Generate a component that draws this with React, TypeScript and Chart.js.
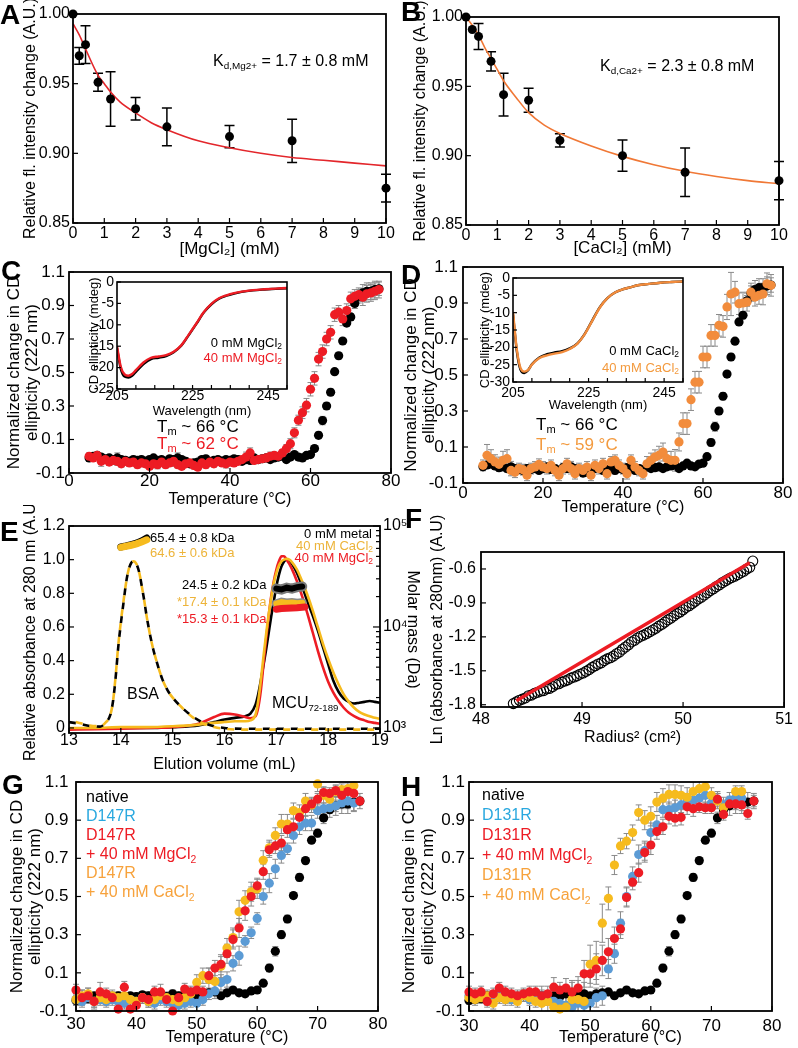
import React, { useEffect, useRef } from "react";
import { Chart, registerables } from "chart.js";

Chart.register(...registerables);

const FONT = "'Liberation Sans', Arial, 'DejaVu Sans', sans-serif";
const W = 798;
const H = 1048;
Chart.defaults.font.family = FONT;
Chart.defaults.color = "#000";

// ================= DATA =================
// Panel A – Mg2+ titration
const mgConc = [0, 0.2, 0.4, 0.8, 1.2, 2, 3, 5, 7, 10];
const mgSignal = [1.0, 0.970, 0.978, 0.951, 0.939, 0.932, 0.919, 0.912, 0.909, 0.875];
const mgError = [0, 0.006, 0.0135, 0.0065, 0.0195, 0.008, 0.0135, 0.008, 0.0155, 0.010];
const mgFitConc = [0, 0.2, 0.4, 0.6, 0.8, 1, 1.2, 1.5, 2, 2.5, 3, 4, 5, 6, 7, 8, 9, 10];
const mgFitSignal = [0.993, 0.985, 0.975, 0.965, 0.956, 0.950, 0.944, 0.937, 0.929, 0.922, 0.917, 0.909, 0.904, 0.900, 0.897, 0.895, 0.893, 0.891];

// Panel B – Ca2+ titration
const caConc = [0, 0.2, 0.4, 0.8, 1.2, 2, 3, 5, 7, 10];
const caSignal = [1.0, 0.991, 0.986, 0.968, 0.944, 0.940, 0.911, 0.900, 0.888, 0.882];
const caError = [0, 0, 0.0094, 0.007, 0.0154, 0.0087, 0.0048, 0.0113, 0.0175, 0.0138];
const caFitConc = [0, 0.2, 0.4, 0.6, 0.8, 1, 1.2, 1.6, 2, 2.5, 3, 4, 5, 6, 7, 8, 9, 10];
const caFitSignal = [1.0, 0.994, 0.987, 0.978, 0.970, 0.962, 0.954, 0.942, 0.931, 0.922, 0.916, 0.907, 0.8995, 0.8935, 0.8887, 0.885, 0.882, 0.8798];

const titrTicksX = [0, 1, 2, 3, 4, 5, 6, 7, 8, 9, 10];
const titrTicksY = [0.85, 0.9, 0.95, 1.0];

// Panels C / D – thermal melts
const tempsFull = [5, 6, 7, 8, 9, 10, 11, 12, 13, 14, 15, 16, 17, 18, 19, 20, 21, 22, 23, 24, 25, 26, 27, 28, 29, 30, 31, 32, 33, 34, 35, 36, 37, 38, 39, 40, 41, 42, 43, 44, 45, 46, 47, 48, 49, 50, 51, 52, 53, 54, 55, 56, 57, 58, 59, 60, 61, 62, 63, 64, 65, 66, 67, 68, 69, 70, 71, 72, 73, 74, 75, 76, 77];
const nativeSignal = [
  -0.01, 0.0, 0.005, -0.005, -0.015, -0.01, -0.02, -0.01, -0.02, -0.025,
  -0.03, -0.02, -0.025, -0.02, -0.03, -0.02, -0.01, -0.025, -0.02, -0.03,
  -0.015, -0.02, -0.01, -0.02, -0.03, -0.045, -0.04, -0.035, -0.02, -0.015,
  -0.03, -0.025, -0.02, -0.03, -0.02, -0.025, -0.015, -0.02, -0.03, -0.02,
  -0.025, -0.01, -0.02, -0.015, -0.01, -0.02, -0.01, -0.005, 0.0, -0.02,
  -0.005, 0.01, -0.005, -0.01, 0.005, 0.01, 0.046, 0.125, 0.213, 0.30,
  0.382, 0.505, 0.60, 0.688, 0.795, 0.832, 0.912, 0.955, 0.975, 0.985,
  0.985, 0.995, 1.0,
];
const nativeError = [
  0.02, 0.02, 0.015, 0.015, 0.02, 0.015, 0.02, 0.03, 0.015, 0.02,
  0.015, 0.02, 0.015, 0.02, 0.015, 0.02, 0.015, 0.02, 0.015, 0.02,
  0.015, 0.02, 0.03, 0.015, 0.02, 0.02, 0.015, 0.02, 0.015, 0.02,
  0.015, 0.02, 0.015, 0.02, 0.015, 0.02, 0.015, 0.02, 0.015, 0.02,
  0.015, 0.02, 0.015, 0.02, 0.015, 0.015, 0.015, 0.015, 0.015, 0.015,
  0.015, 0.015, 0.015, 0.015, 0.015, 0.015, 0.015, 0.02, 0.025, 0.02,
  0.02, 0.015, 0.02, 0.015, 0.015, 0.02, 0.03, 0.04, 0.05, 0.05,
  0.05, 0.05, 0.04,
];
const mg40Signal = [
  0.0, -0.01, 0.005, -0.03, -0.02, -0.035, -0.025, -0.03, -0.045, -0.03,
  -0.04, -0.035, -0.05, -0.04, -0.045, -0.06, -0.045, -0.05, -0.035, -0.05,
  -0.04, -0.03, -0.05, -0.06, -0.045, -0.04, -0.055, -0.065, -0.04, -0.05,
  -0.035, -0.045, -0.03, -0.04, -0.045, -0.035, -0.04, -0.03, -0.02, -0.005,
  0.02, -0.025, -0.02, -0.015, -0.01, 0.0, 0.005, 0.0, 0.02, 0.045,
  0.075, 0.14, 0.215, 0.26, 0.305, 0.40, 0.465, 0.58, 0.625, 0.70,
  0.74, 0.845, 0.86, 0.82, 0.87, 0.94, 0.955, 0.965, 0.95, 0.97,
  0.975, 0.985, 0.995,
];
const mg40Error = [
  0.02, 0.02, 0.02, 0.03, 0.02, 0.02, 0.02, 0.025, 0.02, 0.02,
  0.02, 0.02, 0.02, 0.02, 0.02, 0.02, 0.02, 0.025, 0.02, 0.02,
  0.02, 0.03, 0.02, 0.02, 0.02, 0.02, 0.02, 0.02, 0.02, 0.02,
  0.02, 0.02, 0.02, 0.02, 0.025, 0.02, 0.02, 0.02, 0.02, 0.03,
  0.03, 0.02, 0.02, 0.02, 0.02, 0.025, 0.02, 0.02, 0.02, 0.025,
  0.03, 0.03, 0.03, 0.035, 0.04, 0.04, 0.04, 0.04, 0.04, 0.04,
  0.04, 0.04, 0.04, 0.04, 0.04, 0.04, 0.04, 0.04, 0.05, 0.05,
  0.05, 0.05, 0.05,
];
const ca40Signal = [
  -0.002, 0.054, 0.035, 0.017, 0.004, 0.026, 0.035, -0.03, -0.04, -0.02,
  -0.026, -0.057, -0.02, -0.011, 0.004, -0.011, -0.02, -0.002, -0.03, -0.057,
  -0.02, 0.007, -0.02, -0.048, -0.02, -0.03, -0.011, -0.057, -0.002, -0.02,
  0.007, -0.048, 0.017, 0.026, -0.002, -0.02, -0.048, 0.026, -0.011, -0.03,
  -0.048, 0.007, 0.026, 0.044, 0.054, 0.072, 0.035, 0.026, 0.026, 0.128,
  0.23, 0.23, 0.363, 0.46, 0.46, 0.60, 0.60, 0.72, 0.72, 0.776,
  0.77, 0.878, 0.95, 0.96, 0.896, 0.9, 0.905, 0.96, 0.933, 0.943,
  0.95, 1.007, 0.998,
];
const ca40Error = [
  0.03, 0.06, 0.05, 0.04, 0.04, 0.05, 0.05, 0.03, 0.03, 0.03,
  0.03, 0.03, 0.03, 0.03, 0.03, 0.03, 0.03, 0.03, 0.03, 0.03,
  0.03, 0.03, 0.03, 0.03, 0.03, 0.03, 0.03, 0.03, 0.03, 0.03,
  0.03, 0.03, 0.03, 0.03, 0.03, 0.03, 0.03, 0.03, 0.03, 0.03,
  0.03, 0.04, 0.04, 0.04, 0.05, 0.05, 0.04, 0.05, 0.06, 0.05,
  0.06, 0.06, 0.06, 0.06, 0.06, 0.06, 0.06, 0.06, 0.06, 0.06,
  0.06, 0.07, 0.12, 0.06, 0.06, 0.06, 0.05, 0.05, 0.05, 0.05,
  0.06, 0.06, 0.06,
];
const meltTicksX = [0, 20, 40, 60, 80];
const meltTicksY = [-0.1, 0.1, 0.3, 0.5, 0.7, 0.9, 1.1];

// Insets – CD spectra
const wavelength = [205, 206, 207, 208, 209, 210, 212, 214, 216, 218, 220, 222, 224, 226, 228, 230, 232, 234, 236, 238, 241, 244, 247, 250];
const specMg0 = [-15.5, -20.3, -22.1, -22.3, -21.9, -21.0, -19.2, -18.0, -17.7, -17.3, -16.4, -14.9, -12.4, -9.8, -7.1, -5.2, -3.9, -3.2, -2.7, -2.3, -1.95, -1.75, -1.6, -1.45];
const specMg40 = [-15.0, -19.8, -21.6, -21.9, -21.5, -20.6, -18.8, -17.7, -17.4, -17.1, -16.3, -14.8, -12.3, -9.7, -7.0, -5.1, -3.8, -3.1, -2.6, -2.25, -1.9, -1.7, -1.55, -1.4];
const specCa0 = [-10.5, -21.0, -26.5, -27.4, -26.6, -24.9, -22.9, -22.0, -21.5, -21.1, -20.3, -18.9, -16.1, -12.2, -8.4, -5.8, -4.2, -3.3, -2.7, -2.1, -1.7, -1.35, -1.15, -1.0];
const specCa40 = [-9.8, -20.5, -26.0, -27.0, -26.5, -25.0, -23.1, -22.3, -21.8, -21.4, -20.5, -19.0, -16.2, -12.3, -8.5, -5.8, -4.2, -3.3, -2.7, -2.1, -1.7, -1.35, -1.15, -1.0];
const specTicksX = [205, 225, 245];
const specMinorX = [210, 215, 220, 230, 235, 240, 250];
const specTicksYMg = [-25, -20, -15, -10, -5, 0];
const specTicksYCa = [-30, -25, -20, -15, -10, -5, 0];

// Panel E – SEC-MALS
const bsaVol = [13.0, 13.2, 13.4, 13.6, 13.7, 13.8, 13.85, 13.9, 13.95, 14.0, 14.05, 14.1, 14.15, 14.2, 14.25, 14.3, 14.35, 14.4, 14.45, 14.5, 14.6, 14.7, 14.8, 14.9, 15.0, 15.2, 15.4, 15.6, 15.8, 16.0, 16.5, 17.0, 17.5, 18.0, 18.5, 19.0];
const bsaAbsNoMetal = [0.035, 0.025, 0.012, 0.008, 0.03, 0.08, 0.16, 0.30, 0.48, 0.62, 0.74, 0.86, 0.94, 0.98, 0.99, 0.975, 0.93, 0.85, 0.76, 0.66, 0.50, 0.385, 0.29, 0.225, 0.18, 0.115, 0.065, 0.03, 0.01, 0.0, -0.005, -0.005, -0.005, -0.005, -0.005, -0.005];
const bsaAbsCa = [0.045, 0.03, 0.015, 0.01, 0.03, 0.08, 0.16, 0.31, 0.49, 0.63, 0.75, 0.86, 0.94, 0.98, 0.99, 0.975, 0.93, 0.85, 0.76, 0.66, 0.50, 0.385, 0.29, 0.225, 0.18, 0.115, 0.06, 0.025, 0.005, -0.005, -0.01, -0.01, -0.01, -0.01, -0.01, -0.01];
const mcuVol = [13.0, 13.5, 14.0, 14.5, 15.0, 15.5, 15.8, 16.0, 16.2, 16.4, 16.5, 16.6, 16.65, 16.7, 16.75, 16.8, 16.85, 16.9, 16.95, 17.0, 17.05, 17.1, 17.15, 17.2, 17.25, 17.3, 17.4, 17.5, 17.6, 17.7, 17.8, 17.9, 18.0, 18.1, 18.2, 18.3, 18.4, 18.5, 18.6, 18.7, 18.8, 18.9, 19.0];
const mcuAbsNoMetal = [-0.005, -0.005, 0.0, 0.0, 0.005, 0.015, 0.035, 0.05, 0.06, 0.07, 0.085, 0.14, 0.2, 0.28, 0.37, 0.46, 0.56, 0.66, 0.75, 0.84, 0.91, 0.96, 0.99, 1.0, 0.995, 0.975, 0.92, 0.84, 0.75, 0.67, 0.58, 0.48, 0.38, 0.28, 0.215, 0.175, 0.155, 0.145, 0.15, 0.155, 0.16, 0.155, 0.15];
const mcuAbsCa = [0.0, 0.0, 0.005, 0.005, 0.01, 0.02, 0.03, 0.035, 0.04, 0.04, 0.045, 0.08, 0.16, 0.28, 0.42, 0.55, 0.67, 0.77, 0.86, 0.92, 0.965, 0.99, 1.0, 1.005, 1.0, 0.985, 0.94, 0.87, 0.79, 0.7, 0.6, 0.5, 0.41, 0.33, 0.26, 0.2, 0.155, 0.12, 0.095, 0.08, 0.07, 0.06, 0.055];
const mcuAbsMg = [-0.01, -0.008, -0.005, 0.0, 0.005, 0.025, 0.065, 0.085, 0.08, 0.065, 0.058, 0.07, 0.12, 0.22, 0.37, 0.52, 0.66, 0.78, 0.87, 0.94, 0.99, 1.02, 1.02, 1.0, 0.975, 0.945, 0.87, 0.78, 0.68, 0.57, 0.46, 0.36, 0.275, 0.21, 0.16, 0.12, 0.09, 0.07, 0.055, 0.045, 0.035, 0.03, 0.025];
const bsaMassVol = [14.0, 14.1, 14.2, 14.3, 14.4, 14.5];
const bsaMassNoMetal = [62000, 63500, 65500, 67500, 71000, 76000];
const bsaMassCa = [61500, 63000, 64500, 66500, 69500, 73000];
const mcuMassVol = [17.0, 17.1, 17.2, 17.3, 17.4, 17.5];
const mcuMassNoMetal = [24000, 23500, 24500, 24000, 24800, 25200];
const mcuMassCa = [17000, 17600, 17300, 17500, 17200, 17400];
const mcuMassVolMg = [17.0, 17.1, 17.2, 17.3, 17.4, 17.55];
const mcuMassMg = [15000, 15200, 15300, 15400, 15500, 15800];
const secTicksX = [13, 14, 15, 16, 17, 18, 19];
const secTicksY = [0, 0.2, 0.4, 0.6, 0.8, 1.0, 1.2];
const massTicks = [1000, 10000, 100000];
const massMinor = [2000, 3000, 4000, 5000, 6000, 7000, 8000, 9000, 20000, 30000, 40000, 50000, 60000, 70000, 80000, 90000];
const massLabels: Record<number, string> = { 1000: "10³", 10000: "10⁴", 100000: "10⁵" };

// Panel F – sedimentation equilibrium
const radiusSq = [
  48.32, 48.35, 48.38, 48.41, 48.44, 48.47, 48.50, 48.53, 48.56, 48.59,
  48.62, 48.65, 48.68, 48.71, 48.74, 48.77, 48.80, 48.83, 48.86, 48.89,
  48.92, 48.95, 48.98, 49.01, 49.04, 49.07, 49.10, 49.13, 49.16, 49.19,
  49.22, 49.25, 49.28, 49.31, 49.34, 49.37, 49.40, 49.43, 49.46, 49.49,
  49.52, 49.55, 49.58, 49.61, 49.64, 49.67, 49.70, 49.73, 49.76, 49.79,
  49.82, 49.85, 49.88, 49.91, 49.94, 49.97, 50.00, 50.03, 50.06, 50.09,
  50.12, 50.15, 50.18, 50.21, 50.24, 50.27, 50.30, 50.33, 50.36, 50.39,
  50.42, 50.45, 50.48, 50.51, 50.54, 50.57, 50.60, 50.63, 50.66, 50.69,
];
const lnAbs = [
  -1.79, -1.775, -1.76, -1.75, -1.74, -1.72, -1.715, -1.70, -1.69, -1.68,
  -1.675, -1.66, -1.655, -1.64, -1.62, -1.615, -1.60, -1.59, -1.58, -1.565,
  -1.555, -1.545, -1.53, -1.52, -1.505, -1.49, -1.47, -1.455, -1.44, -1.43,
  -1.41, -1.395, -1.385, -1.37, -1.35, -1.335, -1.31, -1.29, -1.27, -1.245,
  -1.23, -1.21, -1.195, -1.185, -1.17, -1.155, -1.14, -1.125, -1.105, -1.09,
  -1.07, -1.05, -1.035, -1.015, -0.995, -0.98, -0.96, -0.94, -0.925, -0.905,
  -0.885, -0.865, -0.85, -0.83, -0.81, -0.79, -0.775, -0.755, -0.74, -0.72,
  -0.705, -0.69, -0.675, -0.665, -0.65, -0.635, -0.62, -0.6, -0.585, -0.53,
];
const fitRadiusSq = [48.35, 50.66];
const fitLnAbs = [-1.765, -0.545];
const sedTicksX = [48, 49, 50, 51];
const sedTicksY = [-1.8, -1.5, -1.2, -0.9, -0.6];

// Panels G / H – mutant melts
const tempsMut = [30, 31, 32, 33, 34, 35, 36, 37, 38, 39, 40, 41, 42, 43, 44, 45, 46, 47, 48, 49, 50, 51, 52, 53, 54, 55, 56, 57, 58, 59, 60, 61, 62, 63, 64, 65, 66, 67, 68, 69, 70, 71, 72, 73, 74, 75, 76, 77];
const d147rSignal = [
  -0.04, -0.05, -0.03, -0.05, -0.04, -0.05, -0.04, -0.05, -0.06, -0.04,
  -0.05, -0.03, -0.05, -0.06, -0.04, -0.05, -0.06, -0.07, -0.06, -0.05,
  -0.06, -0.04, -0.01, 0.005, 0.05, 0.065, 0.15, 0.19, 0.265, 0.31,
  0.385, 0.5, 0.57, 0.645, 0.715, 0.75, 0.82, 0.865, 0.885, 0.885,
  0.95, 0.96, 0.965, 0.975, 0.99, 1.0, 0.99, null,
];
const d147rError = [
  0.03, 0.03, 0.03, 0.03, 0.03, 0.03, 0.03, 0.03, 0.03, 0.03,
  0.03, 0.03, 0.03, 0.03, 0.03, 0.03, 0.03, 0.03, 0.03, 0.03,
  0.04, 0.03, 0.03, 0.04, 0.04, 0.04, 0.04, 0.05, 0.03, 0.03,
  0.03, 0.04, 0.05, 0.05, 0.04, 0.03, 0.04, 0.04, 0.04, 0.04,
  0.04, 0.03, 0.03, 0.03, 0.03, 0.04, 0.04, 0,
];
const d147rMgSignal = [
  0.01, -0.03, -0.02, -0.05, 0.0, -0.01, -0.03, -0.09, 0.025, -0.09,
  -0.07, -0.03, -0.04, 0.0, 0.0, -0.04, -0.1, -0.03, 0.015, 0.0,
  0.01, 0.0, 0.085, 0.125, 0.145, 0.2, 0.275, 0.335, 0.425, 0.5,
  0.556, 0.63, 0.745, 0.765, 0.78, 0.85, 0.865, 0.915, 0.96, 0.985,
  1.01, 1.045, 1.04, 1.055, 1.03, 1.05, 1.04, 1.0,
];
const d147rMgError = [
  0.03, 0.04, 0.04, 0.04, 0.05, 0.03, 0.03, 0.04, 0.03, 0.04,
  0.04, 0.03, 0.03, 0.03, 0.04, 0.03, 0.04, 0.03, 0.03, 0.03,
  0.03, 0.03, 0.04, 0.04, 0.04, 0.05, 0.05, 0.05, 0.05, 0.05,
  0.04, 0.04, 0.04, 0.04, 0.04, 0.04, 0.04, 0.04, 0.04, 0.03,
  0.03, 0.03, 0.03, 0.03, 0.03, 0.03, 0.03, 0.02,
];
const d147rCaSignal = [
  -0.04, -0.02, -0.01, -0.05, -0.03, -0.04, -0.02, -0.03, -0.02, -0.04,
  -0.05, -0.03, -0.05, -0.04, -0.02, -0.03, -0.04, -0.05, -0.03, -0.01,
  0.05, 0.085, 0.065, 0.055, 0.135, 0.23, 0.285, 0.42, 0.48, 0.525,
  0.54, 0.69, 0.755, 0.82, 0.88, 0.88, 0.95, 0.94, 1.0, 0.98,
  1.09, 1.03, 1.01, 1.05, 1.06, 1.065, 1.08, null,
];
const d147rCaError = [
  0.03, 0.03, 0.03, 0.03, 0.03, 0.03, 0.03, 0.03, 0.03, 0.03,
  0.03, 0.03, 0.03, 0.03, 0.03, 0.03, 0.03, 0.03, 0.03, 0.03,
  0.04, 0.04, 0.06, 0.06, 0.06, 0.05, 0.05, 0.06, 0.05, 0.05,
  0.05, 0.05, 0.04, 0.04, 0.05, 0.05, 0.04, 0.04, 0.04, 0.04,
  0.04, 0.04, 0.03, 0.03, 0.03, 0.03, 0.03, 0,
];
const d131rSignal = [
  -0.02, -0.03, -0.02, -0.04, -0.03, -0.02, -0.03, -0.04, -0.03, -0.02,
  -0.04, -0.03, -0.02, -0.04, -0.05, -0.06, -0.07, -0.08, -0.06, -0.07,
  -0.06, -0.03, -0.02, 0.12, 0.2, 0.36, 0.5, 0.605, 0.72, 0.74,
  0.835, 0.875, 0.955, 0.955, 0.965, 0.98, 1.0, 1.005, 1.015, 1.03,
  0.99, 1.01, 0.98, 1.005, 1.015, 1.015, null, null,
];
const d131rError = [
  0.03, 0.03, 0.03, 0.03, 0.03, 0.03, 0.03, 0.03, 0.03, 0.03,
  0.03, 0.03, 0.03, 0.03, 0.04, 0.04, 0.05, 0.05, 0.05, 0.05,
  0.05, 0.05, 0.05, 0.05, 0.05, 0.06, 0.05, 0.05, 0.05, 0.05,
  0.05, 0.05, 0.04, 0.04, 0.04, 0.04, 0.04, 0.04, 0.04, 0.04,
  0.04, 0.04, 0.04, 0.04, 0.04, 0.04, 0, 0,
];
const d131rMgSignal = [
  0.0, -0.01, 0.0, -0.05, -0.01, 0.02, 0.0, -0.01, -0.02, -0.01,
  0.0, 0.0, -0.02, -0.01, 0.025, 0.01, 0.02, 0.0, 0.02, 0.095,
  0.095, 0.12, 0.165, 0.21, 0.28, 0.33, 0.495, 0.575, 0.625, 0.73,
  0.77, 0.84, 0.865, 0.92, 0.91, 0.915, 0.97, 0.96, 0.97, 0.965,
  0.965, 1.01, 0.93, 0.985, 0.985, 0.98, 0.935, 1.0,
];
const d131rMgError = [
  0.03, 0.03, 0.03, 0.03, 0.03, 0.03, 0.03, 0.03, 0.03, 0.03,
  0.03, 0.03, 0.05, 0.04, 0.05, 0.04, 0.05, 0.05, 0.06, 0.07,
  0.07, 0.08, 0.08, 0.07, 0.06, 0.05, 0.05, 0.04, 0.05, 0.05,
  0.05, 0.04, 0.04, 0.04, 0.04, 0.04, 0.04, 0.04, 0.03, 0.03,
  0.03, 0.03, 0.03, 0.03, 0.03, 0.03, 0.03, 0.03,
];
const d131rCaSignal = [
  -0.03, -0.04, -0.03, -0.02, -0.06, -0.03, -0.04, -0.03, -0.05, -0.02,
  -0.03, -0.05, -0.06, -0.05, -0.08, -0.09, -0.08, -0.04, -0.04, -0.05,
  0.145, 0.165, 0.36, 0.49, 0.665, 0.765, 0.79, 0.835, 0.94, 0.9,
  0.92, 0.995, 1.015, 1.035, 1.035, 1.03, 1.02, 1.05, 1.065, 1.075,
  1.03, 1.0, 0.965, null, 1.05, 1.05, null, null,
];
const d131rCaError = [
  0.03, 0.03, 0.03, 0.03, 0.03, 0.03, 0.03, 0.03, 0.03, 0.03,
  0.03, 0.03, 0.05, 0.05, 0.06, 0.08, 0.1, 0.1, 0.1, 0.1,
  0.1, 0.1, 0.1, 0.06, 0.05, 0.04, 0.04, 0.04, 0.04, 0.05,
  0.05, 0.05, 0.05, 0.05, 0.05, 0.05, 0.05, 0.05, 0.05, 0.05,
  0.04, 0.04, 0.04, 0, 0.03, 0.03, 0, 0,
];
const mutTicksX = [30, 40, 50, 60, 70, 80];

// ================= COLOURS =================
const RED = "#ED1C24";
const ORANGE = "#F28C3C";
const GOLD = "#F6BB1E";
const BLUE = "#5B9BD5";
const GREY = "#8A8A8A";

// ================= HELPERS =================
type Box = { left: number; top: number; width: number; height: number };

function series(xs: number[], ys: (number | null)[], errs?: number[]) {
  const data: { x: number; y: number }[] = [];
  const e: number[] = [];
  xs.forEach((x, i) => {
    const y = ys[i];
    if (y === null || y === undefined) return;
    data.push({ x, y });
    e.push(errs ? errs[i] : 0);
  });
  return { data, e };
}

function pointSet(xs: number[], ys: (number | null)[], errs: number[] | undefined, color: string, o: any = {}) {
  const s = series(xs, ys, errs);
  return {
    data: s.data,
    errors: errs ? s.e : undefined,
    errorColor: o.errorColor || GREY,
    errorWidth: o.errorWidth || 1,
    errorCap: o.errorCap || 3,
    showLine: false,
    pointRadius: o.r || 4.6,
    pointBackgroundColor: o.fill || color,
    pointBorderColor: color,
    pointBorderWidth: o.bw || 0,
    clip: false,
  };
}

function lineSet(xs: number[], ys: number[], color: string, width: number, o: any = {}) {
  return {
    data: series(xs, ys).data,
    showLine: true,
    borderColor: color,
    borderWidth: width,
    pointRadius: 0,
    fill: false,
    cubicInterpolationMode: o.smooth === false ? "default" : "monotone",
    borderDash: o.dash || [],
    borderDashOffset: o.dashOffset || 0,
    borderCapStyle: o.cap || "butt",
    yAxisID: o.yAxisID || "y",
  };
}

function ax(o: any) {
  const horizontal = o.pos === "bottom";
  return {
    type: o.type || "linear",
    position: o.pos,
    min: o.min,
    max: o.max,
    bounds: "data",
    grid: { display: false, drawTicks: false, tickLength: 0 },
    border: { display: false },
    afterBuildTicks: (s: any) => {
      s.ticks = o.ticks.map((v: number) => ({ value: v }));
    },
    afterFit: (s: any) => {
      if (horizontal) s.height = o.size;
      else s.width = o.size;
    },
    ticks: {
      autoSkip: false,
      maxRotation: 0,
      minRotation: 0,
      padding: o.pad,
      color: "#000",
      font: { family: FONT, size: o.fs, lineHeight: 1 },
      callback: (v: number) => o.fmt(v),
    },
    title: o.title
      ? {
          display: true,
          text: o.title,
          color: "#000",
          font: { family: FONT, size: o.ts, lineHeight: o.tlh || 1.2 },
          padding: o.tpad,
        }
      : { display: false },
  };
}

const f0 = (v: number) => String(v);
const f1 = (v: number) => v.toFixed(1);
const f2 = (v: number) => v.toFixed(2);

type Mark = { axis: string; side: "bottom" | "left" | "right"; values: number[]; len: number };

function framePlugin(marks: Mark[], lineWidth = 1.8) {
  return {
    id: "frame",
    afterDatasetsDraw(chart: any) {
      const { ctx, chartArea: a } = chart;
      ctx.save();
      ctx.strokeStyle = "#000";
      ctx.lineWidth = 1.2;
      for (const m of marks) {
        const s = chart.scales[m.axis];
        for (const v of m.values) {
          const p = s.getPixelForValue(v);
          ctx.beginPath();
          if (m.side === "bottom") {
            ctx.moveTo(p, a.bottom);
            ctx.lineTo(p, a.bottom - m.len);
          } else if (m.side === "left") {
            ctx.moveTo(a.left, p);
            ctx.lineTo(a.left + m.len, p);
          } else {
            ctx.moveTo(a.right, p);
            ctx.lineTo(a.right - m.len, p);
          }
          ctx.stroke();
        }
      }
      ctx.lineWidth = lineWidth;
      ctx.strokeRect(a.left, a.top, a.right - a.left, a.bottom - a.top);
      ctx.restore();
    },
  };
}

const errorBarPlugin = {
  id: "errorBars",
  beforeDatasetsDraw(chart: any) {
    const { ctx, chartArea: a } = chart;
    ctx.save();
    ctx.beginPath();
    ctx.rect(a.left - 20, a.top, a.right - a.left + 40, a.bottom - a.top);
    ctx.clip();
    chart.data.datasets.forEach((ds: any, i: number) => {
      if (!ds.errors) return;
      const meta = chart.getDatasetMeta(i);
      const ys = chart.scales[meta.yAxisID];
      ctx.strokeStyle = ds.errorColor;
      ctx.lineWidth = ds.errorWidth;
      const cap = ds.errorCap;
      meta.data.forEach((el: any, j: number) => {
        const d = ds.data[j];
        const e = ds.errors[j];
        if (!e || !d) return;
        const x = el.x;
        const y1 = ys.getPixelForValue(d.y + e);
        const y2 = ys.getPixelForValue(d.y - e);
        ctx.beginPath();
        ctx.moveTo(x, y1);
        ctx.lineTo(x, y2);
        ctx.moveTo(x - cap, y1);
        ctx.lineTo(x + cap, y1);
        ctx.moveTo(x - cap, y2);
        ctx.lineTo(x + cap, y2);
        ctx.stroke();
      });
    });
    ctx.restore();
  },
};

function baseConfig(datasets: any[], padding: any, scales: any, marks: Mark[], frameWidth = 1.8) {
  return {
    type: "scatter",
    data: { datasets },
    options: {
      animation: false,
      responsive: false,
      maintainAspectRatio: false,
      devicePixelRatio: 1,
      events: [],
      layout: { padding },
      plugins: { legend: { display: false }, tooltip: { enabled: false } },
      scales,
    },
    plugins: [errorBarPlugin, framePlugin(marks, frameWidth)],
  };
}

// ================= PANELS =================
type Spec = { box: Box; make: () => any };

const panelA: Spec = {
  box: { left: 0, top: 0, width: 400, height: 262 },
  make: () =>
    baseConfig(
      [
        pointSet(mgConc, mgSignal, mgError, "#000", { errorColor: "#000", errorWidth: 1.5, errorCap: 5, r: 4.5 }),
        lineSet(mgFitConc, mgFitSignal, "#E3262B", 1.6),
      ],
      { top: 14, right: 14, left: 0, bottom: 0 },
      {
        x: ax({ pos: "bottom", min: 0, max: 10, ticks: titrTicksX, fmt: f0, size: 39, fs: 16, pad: 3, title: "[MgCl₂] (mM)", ts: 17, tpad: { top: 0, bottom: 2.8 } }),
        y: ax({ pos: "left", min: 0.85, max: 1.0, ticks: titrTicksY, fmt: f2, size: 73, fs: 16, pad: 3, title: "Relative fl. intensity change (A.U.)", ts: 16, tpad: { top: 21.4, bottom: 0 } }),
      },
      [
        { axis: "x", side: "bottom", values: titrTicksX, len: 5 },
        { axis: "y", side: "left", values: titrTicksY, len: 5 },
      ]
    ),
};

const panelB: Spec = {
  box: { left: 400, top: 0, width: 398, height: 262 },
  make: () =>
    baseConfig(
      [
        pointSet(caConc, caSignal, caError, "#000", { errorColor: "#000", errorWidth: 1.5, errorCap: 5, r: 4.5 }),
        lineSet(caFitConc, caFitSignal, "#F07836", 1.6),
      ],
      { top: 17, right: 19, left: 0, bottom: 0 },
      {
        x: ax({ pos: "bottom", min: 0, max: 10, ticks: titrTicksX, fmt: f0, size: 37, fs: 16, pad: 3, title: "[CaCl₂] (mM)", ts: 17, tpad: { top: 0, bottom: 3.8 } }),
        y: ax({ pos: "left", min: 0.85, max: 1.0, ticks: titrTicksY, fmt: f2, size: 66, fs: 16, pad: 3, title: "Relative fl. intensity change (A.U.)", ts: 16, tpad: { top: 11.4, bottom: 0 } }),
      },
      [
        { axis: "x", side: "bottom", values: titrTicksX, len: 5 },
        { axis: "y", side: "left", values: titrTicksY, len: 5 },
      ]
    ),
};

const meltTitle = ["Normalized change in CD", "ellipticity (222 nm)"];

const panelC: Spec = {
  box: { left: 0, top: 252, width: 410, height: 268 },
  make: () =>
    baseConfig(
      [
        pointSet(tempsFull, mg40Signal, mg40Error, RED),
        pointSet(tempsFull, nativeSignal, nativeError, "#000"),
      ],
      { top: 20, right: 19, left: 0, bottom: 0 },
      {
        x: ax({ pos: "bottom", min: 0, max: 80, ticks: meltTicksX, fmt: f0, size: 47, fs: 17, pad: 0, title: "Temperature (°C)", ts: 16, tpad: { top: 0, bottom: 10.4 } }),
        y: ax({ pos: "left", min: -0.1, max: 1.1, ticks: meltTicksY, fmt: f1, size: 69, fs: 17, pad: 4, title: meltTitle, ts: 17, tlh: 1.1, tpad: { top: 4.6, bottom: 0 } }),
      },
      [
        { axis: "x", side: "bottom", values: meltTicksX, len: 5 },
        { axis: "y", side: "left", values: meltTicksY, len: 5 },
      ]
    ),
};

const insetC: Spec = {
  box: { left: 80, top: 268, width: 220, height: 157 },
  make: () =>
    baseConfig(
      [
        lineSet(wavelength, specMg40, RED, 2.4),
        lineSet(wavelength, specMg0, "#000", 2.4),
      ],
      { top: 14, right: 13, left: 0, bottom: 0 },
      {
        x: ax({ pos: "bottom", min: 205, max: 250, ticks: specTicksX, fmt: f0, size: 36, fs: 14, pad: 0, title: "Wavelength (nm)", ts: 13, tpad: { top: 0, bottom: 6.2 } }),
        y: ax({ pos: "left", min: -25, max: 0, ticks: specTicksYMg, fmt: f0, size: 37, fs: 14, pad: 3, title: "CD ellipticity (mdeg)", ts: 13, tpad: { top: 6.2, bottom: 0 } }),
      },
      [
        { axis: "x", side: "bottom", values: specTicksX, len: 4 },
        { axis: "x", side: "bottom", values: specMinorX, len: 4 },
        { axis: "y", side: "left", values: specTicksYMg, len: 4 },
      ],
      1.6
    ),
};

const panelD: Spec = {
  box: { left: 400, top: 250, width: 398, height: 270 },
  make: () =>
    baseConfig(
      [
        pointSet(tempsFull, ca40Signal, ca40Error, ORANGE),
        pointSet(tempsFull, nativeSignal, nativeError, "#000"),
      ],
      { top: 17, right: 15, left: 0, bottom: 0 },
      {
        x: ax({ pos: "bottom", min: 0, max: 80, ticks: meltTicksX, fmt: f0, size: 37, fs: 17, pad: 1.5, title: "Temperature (°C)", ts: 16, tpad: { top: 0, bottom: 2.4 } }),
        y: ax({ pos: "left", min: -0.1, max: 1.1, ticks: meltTicksY, fmt: f1, size: 63, fs: 17, pad: 5, title: meltTitle, ts: 17, tlh: 1.1, tpad: { top: 1.6, bottom: 0 } }),
      },
      [
        { axis: "x", side: "bottom", values: meltTicksX, len: 5 },
        { axis: "y", side: "left", values: meltTicksY, len: 5 },
      ]
    ),
};

const insetD: Spec = {
  box: { left: 470, top: 265, width: 230, height: 155 },
  make: () =>
    baseConfig(
      [
        lineSet(wavelength, specCa40, ORANGE, 2.4),
        lineSet(wavelength, specCa0, "#000", 2.4),
      ],
      { top: 13, right: 17, left: 0, bottom: 0 },
      {
        x: ax({ pos: "bottom", min: 205, max: 250, ticks: specTicksX, fmt: f0, size: 38, fs: 14, pad: 4, title: "Wavelength (nm)", ts: 13, tpad: { top: 0, bottom: 7.2 } }),
        y: ax({ pos: "left", min: -30, max: 0, ticks: specTicksYCa, fmt: f0, size: 43, fs: 14, pad: 3, title: "CD ellipticity (mdeg)", ts: 13, tpad: { top: 7.2, bottom: 0 } }),
      },
      [
        { axis: "x", side: "bottom", values: specTicksX, len: 4 },
        { axis: "x", side: "bottom", values: specMinorX, len: 4 },
        { axis: "y", side: "left", values: specTicksYCa, len: 4 },
      ],
      1.6
    ),
};

const panelE: Spec = {
  box: { left: 0, top: 505, width: 425, height: 270 },
  make: () =>
    baseConfig(
      [
        lineSet(bsaMassVol, bsaMassCa, GOLD, 7, { yAxisID: "y2", cap: "round", smooth: false }),
        lineSet(bsaMassVol, bsaMassNoMetal, "#000", 7, { yAxisID: "y2", cap: "round", smooth: false }),
        lineSet(mcuMassVolMg, mcuMassMg, RED, 7, { yAxisID: "y2", cap: "round", smooth: false }),
        lineSet(mcuMassVol, mcuMassCa, GOLD, 6, { yAxisID: "y2", cap: "round", smooth: false }),
        lineSet(mcuMassVol, mcuMassNoMetal, "#000", 6, { yAxisID: "y2", cap: "round", smooth: false }),
        lineSet(mcuMassVol, mcuMassCa, "#8c8c8c", 9, { yAxisID: "y2", cap: "round", smooth: false }),
        lineSet(mcuMassVol, mcuMassNoMetal, "#7a7a7a", 10, { yAxisID: "y2", cap: "round", smooth: false }),
        lineSet(bsaVol, bsaAbsCa, GOLD, 2.6, { dash: [7, 7], dashOffset: 7 }),
        lineSet(bsaVol, bsaAbsNoMetal, "#000", 2.6, { dash: [7, 7] }),
        lineSet(mcuVol, mcuAbsCa, GOLD, 2.6),
        lineSet(mcuVol, mcuAbsMg, RED, 2.6),
        lineSet(mcuVol, mcuAbsNoMetal, "#000", 2.6),
      ],
      { top: 21, right: 3, left: 0, bottom: 0 },
      {
        x: ax({ pos: "bottom", min: 13, max: 19, ticks: secTicksX, fmt: f0, size: 42, fs: 16, pad: 0, title: "Elution volume (mL)", ts: 16, tpad: { top: 0, bottom: 0.6 } }),
        y: ax({ pos: "left", min: -0.03, max: 1.2, ticks: secTicksY, fmt: (v: number) => (v === 0 ? "0" : v.toFixed(1)), size: 69, fs: 16, pad: 4, title: "Relative absorbance at 280 nm (A.U)", ts: 16, tpad: { top: 21.4, bottom: 0 } }),
        y2: ax({ type: "logarithmic", pos: "right", min: 891.25, max: 100000, ticks: massTicks, fmt: (v: number) => massLabels[v] || "", size: 42, fs: 16, pad: 3, title: "Molar mass (Da)", ts: 16, tpad: { top: 0.4, bottom: 0 } }),
      },
      [
        { axis: "x", side: "bottom", values: secTicksX, len: 5 },
        { axis: "y", side: "left", values: secTicksY, len: 5 },
        { axis: "y2", side: "right", values: massTicks, len: 7 },
        { axis: "y2", side: "right", values: massMinor, len: 4 },
      ]
    ),
};

const panelF: Spec = {
  box: { left: 415, top: 500, width: 383, height: 260 },
  make: () =>
    baseConfig(
      [
        lineSet(fitRadiusSq, fitLnAbs, RED, 3.5, { smooth: false }),
        pointSet(radiusSq, lnAbs, undefined, "#000", { r: 5, fill: "rgba(0,0,0,0)", bw: 1.1 }),
      ],
      { top: 52, right: 12, left: 0, bottom: 0 },
      {
        x: ax({ pos: "bottom", min: 48, max: 51, ticks: sedTicksX, fmt: f0, size: 53, fs: 16, pad: 5, title: "Radius² (cm²)", ts: 16, tpad: { top: 0, bottom: 12.4 } }),
        y: ax({ pos: "left", min: -1.82, max: -0.45, ticks: sedTicksY, fmt: f1, size: 66, fs: 16, pad: 5, title: "Ln (absorbance at 280nm) (A.U)", ts: 16, tpad: { top: 12.9, bottom: 0 } }),
      },
      [
        { axis: "x", side: "bottom", values: sedTicksX, len: 5 },
        { axis: "y", side: "left", values: sedTicksY, len: 5 },
      ]
    ),
};

const nativeMutT = tempsFull.filter((t) => t >= 30);
const nativeMutSignal = nativeSignal.filter((_, i) => tempsFull[i] >= 30);
const nativeMutError = nativeError.filter((_, i) => tempsFull[i] >= 30);

function mutantPanel(box: Box, pad: any, yPad: number, titleTop: number, xPad: number, sets: any[]): Spec {
  return {
    box,
    make: () =>
      baseConfig(
        sets,
        { top: pad.top, right: pad.right, left: 0, bottom: 0 },
        {
          x: ax({ pos: "bottom", min: 30, max: 80, ticks: mutTicksX, fmt: f0, size: 37, fs: 17, pad: xPad, title: "Temperature (°C)", ts: 16, tpad: { top: 0, bottom: 0.6 } }),
          y: ax({ pos: "left", min: -0.1, max: 1.1, ticks: meltTicksY, fmt: f1, size: pad.yw, fs: 17, pad: yPad, title: meltTitle, ts: 17, tlh: 1.1, tpad: { top: titleTop, bottom: 0 } }),
        },
        [
          { axis: "x", side: "bottom", values: mutTicksX, len: 5 },
          { axis: "y", side: "left", values: meltTicksY, len: 5 },
        ]
      ),
  };
}

const panelG = mutantPanel(
  { left: 0, top: 760, width: 410, height: 288 },
  { top: 22, right: 32, yw: 76 },
  7.5,
  7.6,
  5,
  [
    pointSet(tempsMut, d147rMgSignal, d147rMgError, RED),
    pointSet(tempsMut, d147rCaSignal, d147rCaError, GOLD),
    pointSet(tempsMut, d147rSignal, d147rError, BLUE),
    pointSet(nativeMutT, nativeMutSignal, nativeMutError, "#000"),
  ]
);

const panelH = mutantPanel(
  { left: 400, top: 760, width: 398, height: 288 },
  { top: 22, right: 26, yw: 69 },
  4,
  0,
  6.5,
  [
    pointSet(tempsMut, d131rMgSignal, d131rMgError, RED),
    pointSet(tempsMut, d131rCaSignal, d131rCaError, GOLD),
    pointSet(tempsMut, d131rSignal, d131rError, BLUE),
    pointSet(nativeMutT, nativeMutSignal, nativeMutError, "#000"),
  ]
);

const panels: Spec[] = [panelA, panelB, panelC, panelD, panelE, panelF, panelG, panelH, insetC, insetD];

// ================= COMPONENTS =================
function ChartCanvas({ spec }: { spec: Spec }) {
  const ref = useRef<HTMLCanvasElement>(null);
  useEffect(() => {
    if (!ref.current) return;
    const chart = new Chart(ref.current, spec.make());
    return () => chart.destroy();
  }, [spec]);
  const b = spec.box;
  return (
    <canvas
      ref={ref}
      width={b.width}
      height={b.height}
      style={{ position: "absolute", left: b.left, top: b.top, width: b.width, height: b.height }}
    />
  );
}

function Txt({ x, y, size = 16, color = "#000", right = false, bold = false, children }: any) {
  const style: React.CSSProperties = {
    position: "absolute",
    top: y - 0.85 * size,
    fontSize: size,
    lineHeight: 1,
    color,
    fontFamily: FONT,
    fontWeight: bold ? 700 : 400,
    whiteSpace: "nowrap",
  };
  if (right) style.right = W - x;
  else style.left = x;
  return <div style={style}>{children}</div>;
}

function Sub({ children, s = 0.65 }: any) {
  return <span style={{ fontSize: `${s}em`, position: "relative", top: "0.3em" }}>{children}</span>;
}

const ORANGE_TXT = "#F39A3E";
const GOLD_TXT = "#EDB43A";
const BLUE_TXT = "#29A8DF";
const LEG_ORANGE = "#F7A23C";

export default function App() {
  return (
    <div style={{ position: "absolute", left: 0, top: 0, width: W, height: H, background: "#fff", overflow: "hidden", fontFamily: FONT }}>
      {panels.map((p, i) => (
        <ChartCanvas key={i} spec={p} />
      ))}

      {/* panel letters */}
      <Txt x={0} y={25} size={28} bold>A</Txt>
      <Txt x={401} y={22} size={28} bold>B</Txt>
      <Txt x={1} y={281} size={28} bold>C</Txt>
      <Txt x={401} y={285} size={28} bold>D</Txt>
      <Txt x={0} y={542} size={28} bold>E</Txt>
      <Txt x={405} y={529} size={28} bold>F</Txt>
      <Txt x={2} y={795} size={28} bold>G</Txt>
      <Txt x={401} y={797} size={28} bold>H</Txt>

      {/* A / B annotations */}
      <Txt x={213} y={67} size={16}>K<Sub s={0.62}>d,Mg2+</Sub> = 1.7 ± 0.8 mM</Txt>
      <Txt x={600} y={72} size={16}>K<Sub s={0.62}>d,Ca2+</Sub> = 2.3 ± 0.8 mM</Txt>

      {/* C annotations */}
      <Txt x={282} y={347} size={13} right>0 mM MgCl<Sub>2</Sub></Txt>
      <Txt x={282} y={362} size={13} right color={RED}>40 mM MgCl<Sub>2</Sub></Txt>
      <Txt x={157} y={432} size={17}>T<Sub>m</Sub> ~ 66 °C</Txt>
      <Txt x={157} y={449} size={17} color={RED}>T<Sub>m</Sub> ~ 62 °C</Txt>

      {/* D annotations */}
      <Txt x={679} y={355} size={13} right>0 mM CaCl<Sub>2</Sub></Txt>
      <Txt x={679} y={372} size={13} right color={ORANGE_TXT}>40 mM CaCl<Sub>2</Sub></Txt>
      <Txt x={536} y={430} size={17}>T<Sub>m</Sub> ~ 66 °C</Txt>
      <Txt x={536} y={450} size={17} color={ORANGE_TXT}>T<Sub>m</Sub> ~ 59 °C</Txt>

      {/* E annotations */}
      <Txt x={150} y={542} size={13}>65.4 ± 0.8 kDa</Txt>
      <Txt x={150} y={557} size={13} color={GOLD_TXT}>64.6 ± 0.6 kDa</Txt>
      <Txt x={372} y={538} size={13} right>0 mM metal</Txt>
      <Txt x={373} y={550} size={13} right color={GOLD_TXT}>40 mM CaCl<Sub>2</Sub></Txt>
      <Txt x={373} y={562} size={13} right color={RED}>40 mM MgCl<Sub>2</Sub></Txt>
      <Txt x={182} y={589} size={13}>24.5 ± 0.2 kDa</Txt>
      <Txt x={177} y={606} size={13} color={GOLD_TXT}>*17.4 ± 0.1 kDa</Txt>
      <Txt x={177} y={623} size={13} color={RED}>*15.3 ± 0.1 kDa</Txt>
      <Txt x={127} y={700} size={16}>BSA</Txt>
      <Txt x={272} y={709} size={16}>MCU<Sub s={0.6}>72-189</Sub></Txt>

      {/* G legend */}
      <Txt x={86} y={803} size={16}>native</Txt>
      <Txt x={86} y={822} size={16} color={BLUE_TXT}>D147R</Txt>
      <Txt x={86} y={841} size={16} color={RED}>D147R</Txt>
      <Txt x={86} y={860} size={16} color={RED}>+ 40 mM MgCl<Sub>2</Sub></Txt>
      <Txt x={86} y={879} size={16} color={LEG_ORANGE}>D147R</Txt>
      <Txt x={86} y={898} size={16} color={LEG_ORANGE}>+ 40 mM CaCl<Sub>2</Sub></Txt>

      {/* H legend */}
      <Txt x={482} y={801} size={16}>native</Txt>
      <Txt x={482} y={821} size={16} color={BLUE_TXT}>D131R</Txt>
      <Txt x={482} y={841} size={16} color={RED}>D131R</Txt>
      <Txt x={482} y={861} size={16} color={RED}>+ 40 mM MgCl<Sub>2</Sub></Txt>
      <Txt x={482} y={881} size={16} color={LEG_ORANGE}>D131R</Txt>
      <Txt x={482} y={901} size={16} color={LEG_ORANGE}>+ 40 mM CaCl<Sub>2</Sub></Txt>
    </div>
  );
}
